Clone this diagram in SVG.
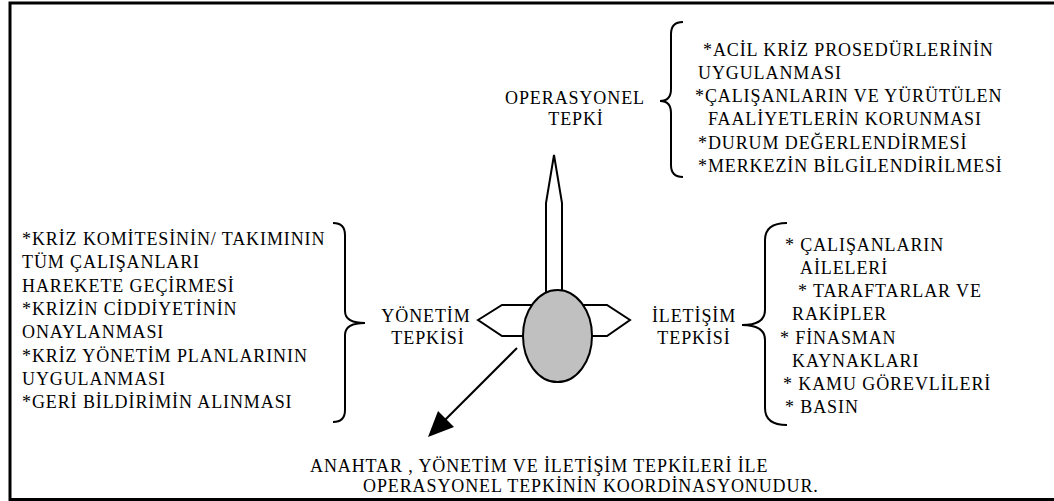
<svg xmlns="http://www.w3.org/2000/svg" width="1054" height="501" viewBox="0 0 1054 501" font-family="Liberation Serif, Times New Roman, DejaVu Serif, serif" font-size="18">
<style>
text{font-family:'Liberation Serif','Times New Roman','DejaVu Serif',serif;font-size:18px;fill:#000;letter-spacing:0.9px}
.mid{text-anchor:middle}
.brace{fill:none;stroke:#000;stroke-width:2}
.shape{fill:#fff;stroke:#000;stroke-width:2;stroke-linejoin:miter}
.line{fill:none;stroke:#000;stroke-width:2}
</style>
<rect x="0" y="0" width="1054" height="501" fill="#fff"/>
<path d="M1054,3 H10 V499.5 H1054" fill="none" stroke="#000" stroke-width="3"/>

<g id="operasyonel">
<text class="mid" x="575" y="104">OPERASYONEL</text>
<text class="mid" x="576" y="125">TEPKİ</text>
<path class="brace" d="M683,22 Q671,22 671,34 L671,89 Q671,101 660,101 Q671,101 671,113 L671,165 Q671,177 683,177"/>
<text x="703" y="56">*ACİL KRİZ PROSEDÜRLERİNİN</text>
<text x="698" y="79">UYGULANMASI</text>
<text x="695" y="102">*ÇALIŞANLARIN VE YÜRÜTÜLEN</text>
<text x="708" y="125">FAALİYETLERİN KORUNMASI</text>
<text x="698" y="149">*DURUM DEĞERLENDİRMESİ</text>
<text x="698" y="172">*MERKEZİN BİLGİLENDİRİLMESİ</text>
</g>

<g id="yonetim">
<text x="22" y="245">*KRİZ KOMİTESİNİN/ TAKIMININ</text>
<text x="22" y="268">TÜM ÇALIŞANLARI</text>
<text x="22" y="292">HAREKETE GEÇİRMESİ</text>
<text x="22" y="315">*KRİZİN CİDDİYETİNİN</text>
<text x="22" y="338">ONAYLANMASI</text>
<text x="22" y="362">*KRİZ YÖNETİM PLANLARININ</text>
<text x="22" y="385">UYGULANMASI</text>
<text x="22" y="408">*GERİ BİLDİRİMİN ALINMASI</text>
<path class="brace" d="M333,223 Q345,223 345,235 L345,311 Q345,323 365,323 Q345,323 345,335 L345,410 Q345,422 333,422"/>
<text class="mid" x="426" y="322">YÖNETİM</text>
<text class="mid" x="428" y="344">TEPKİSİ</text>
</g>

<g id="iletisim">
<text class="mid" x="694" y="322">İLETİŞİM</text>
<text class="mid" x="694" y="344">TEPKİSİ</text>
<path class="brace" d="M787,223 Q765,223 765,240 L765,310 Q765,325 742,325 Q765,325 765,340 L765,408 Q765,425 787,425"/>
<text x="785" y="251">* ÇALIŞANLARIN</text>
<text x="800" y="274">AİLELERİ</text>
<text x="798" y="297">* TARAFTARLAR VE</text>
<text x="792" y="320">RAKİPLER</text>
<text x="780" y="344">* FİNASMAN</text>
<text x="792" y="367">KAYNAKLARI</text>
<text x="783" y="390">* KAMU GÖREVLİLERİ</text>
<text x="785" y="413">* BASIN</text>
</g>

<g id="center">
<polygon class="shape" points="554,155 562,203 562,300 546,300 546,203"/>
<polygon class="shape" points="478,320 502,305 560,305 560,336 502,336"/>
<polygon class="shape" points="555,305 607,305 630,320 607,336 555,336"/>
<ellipse cx="557.5" cy="336" rx="34.5" ry="46" fill="#c0c0c0" stroke="#000" stroke-width="2"/>
</g>

<g id="connectors">
<line class="line" x1="517" y1="348" x2="444" y2="421"/>
<polygon points="428,437 438,411 454,427" fill="#000"/>
</g>

<g id="anahtar">
<text x="310" y="472">ANAHTAR , YÖNETİM VE İLETİŞİM TEPKİLERİ İLE</text>
<text x="363" y="492">OPERASYONEL TEPKİNİN KOORDİNASYONUDUR.</text>
</g>
</svg>
